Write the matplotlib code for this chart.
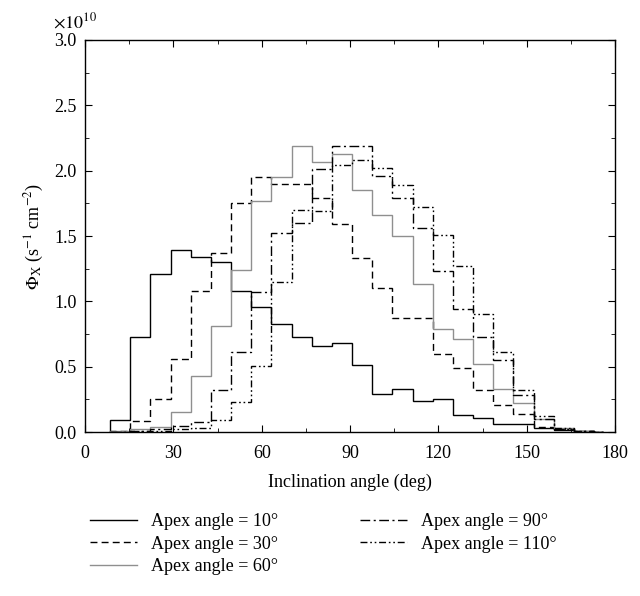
import matplotlib
matplotlib.use("Agg")
import matplotlib.pyplot as plt
from matplotlib.ticker import MultipleLocator, FuncFormatter
from matplotlib.lines import Line2D

plt.rcParams['font.family'] = ['Liberation Serif', 'DejaVu Serif']
plt.rcParams['mathtext.fontset'] = 'stix'
plt.rcParams['font.size'] = 13

# bin edges of the inclination angle (deg)
bin_edges = [8.5, 15.35, 22.2, 29.05, 35.9, 42.75, 49.6, 56.45, 63.3, 70.15,
             77.0, 83.85, 90.7, 97.55, 104.4, 111.25, 118.1, 124.95, 131.8,
             138.65, 145.5, 152.35, 159.2, 166.05, 172.9, 176.0]

# flux in units of 1e10 s^-1 cm^-2
apex10 = [0.09, 0.73, 1.21, 1.39, 1.34, 1.30, 1.08, 0.96, 0.83, 0.73, 0.66, 0.68,
          0.51, 0.29, 0.33, 0.24, 0.25, 0.13, 0.11, 0.06, 0.06, 0.03, 0.015, 0.008, 0.004]
apex30 = [0.01, 0.085, 0.25, 0.56, 1.08, 1.37, 1.75, 1.95, 1.90, 1.90, 1.79, 1.59,
          1.33, 1.10, 0.87, 0.87, 0.60, 0.49, 0.32, 0.21, 0.135, 0.04, 0.02, 0.006, 0.002]
apex60 = [0.01, 0.02, 0.04, 0.15, 0.43, 0.81, 1.24, 1.77, 1.95, 2.19, 2.07, 2.13,
          1.85, 1.66, 1.50, 1.13, 0.79, 0.71, 0.52, 0.33, 0.22, 0.10, 0.03, 0.01, 0.003]
apex90 = [0.0, 0.01, 0.02, 0.05, 0.08, 0.32, 0.61, 1.07, 1.52, 1.60, 2.01, 2.19,
          2.19, 1.96, 1.79, 1.56, 1.23, 0.94, 0.73, 0.55, 0.28, 0.10, 0.02, 0.008, 0.003]
apex110 = [0.0, 0.005, 0.01, 0.02, 0.03, 0.09, 0.23, 0.505, 1.15, 1.70, 1.69, 2.04,
           2.08, 2.02, 1.89, 1.72, 1.51, 1.27, 0.90, 0.615, 0.32, 0.12, 0.03, 0.01, 0.003]

labels = ["Apex angle = 10°", "Apex angle = 30°", "Apex angle = 60°",
          "Apex angle = 90°", "Apex angle = 110°"]

fig = plt.figure(figsize=(6.4, 5.96), dpi=100)
ax = fig.add_axes([0.133, 0.275, 0.828, 0.658])

scale = 1e10
lw = 1.0
styles = [
    dict(color='black', linestyle='-'),
    dict(color='black', linestyle=(0, (5, 3))),
    dict(color='#8f8f8f', linestyle='-'),
    dict(color='black', linestyle=(0, (7, 2.5, 1.5, 2.5))),
    dict(color='black', linestyle=(0, (5, 2, 1.2, 2, 1.2, 2))),
]
series = [apex10, apex30, apex60, apex90, apex110]
for vals, st in zip(series, styles):
    ax.stairs([v * scale for v in vals], bin_edges, linewidth=lw, **st)

ax.set_xlim(0, 180)
ax.set_ylim(0, 3.0e10)
ax.xaxis.set_major_locator(MultipleLocator(30))
ax.xaxis.set_minor_locator(MultipleLocator(15))
ax.yaxis.set_major_locator(MultipleLocator(0.5e10))
ax.yaxis.set_minor_locator(MultipleLocator(0.25e10))
ax.yaxis.set_major_formatter(FuncFormatter(lambda v, p: f"{v / scale:.1f}"))
ax.text(-0.06, 1.02, r'$\times 10^{10}$', transform=ax.transAxes, fontsize=13,
        ha='left', va='bottom')

ax.tick_params(which='both', direction='in', top=True, right=True, labelsize=13)
ax.tick_params(axis='x', pad=9)
ax.tick_params(axis='y', pad=6)
ax.tick_params(which='major', length=5)
ax.tick_params(which='minor', length=3)
for s in ax.spines.values():
    s.set_linewidth(1.0)

ax.set_xlabel("Inclination angle (deg)", fontsize=13, labelpad=9)
ax.set_ylabel(r'$\Phi_{\mathrm{X}}$ (s$^{-1}$ cm$^{-2}$)', fontsize=13, labelpad=6)

proxies = [Line2D([], [], linewidth=lw, **st) for st in styles]
fig.legend(proxies, labels, loc='upper left', bbox_to_anchor=(0.115, 0.166),
           ncol=2, frameon=False, fontsize=13, handlelength=2.6, handletextpad=0.8,
           labelspacing=0.3, columnspacing=4.5)

fig.savefig("out.png", dpi=100)
